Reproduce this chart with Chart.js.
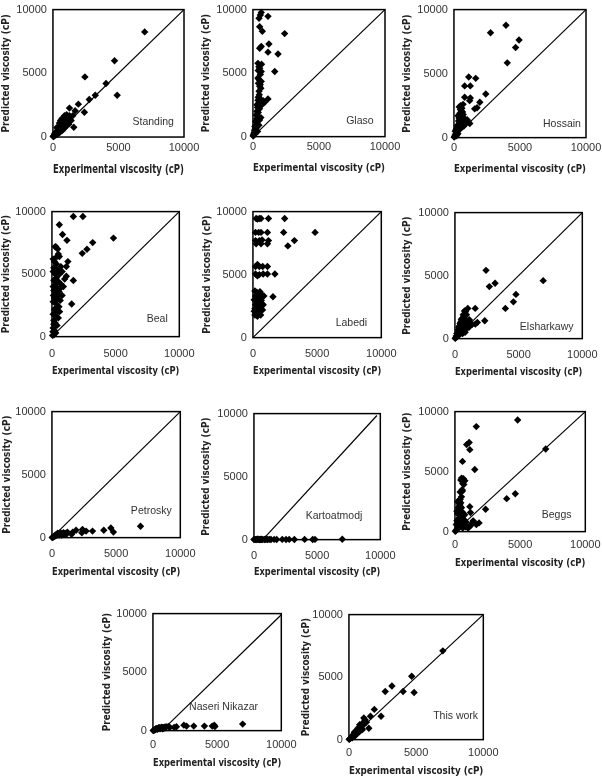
<!DOCTYPE html>
<html>
<head>
<meta charset="utf-8">
<script src="https://cdn.jsdelivr.net/npm/chart.js@4.4.0/dist/chart.umd.min.js"></script>
<style>
html,body{margin:0;padding:0;background:#fff;}
body{width:602px;height:778px;position:relative;overflow:hidden;}
.pn{position:absolute;}
</style>
</head>
<body>
<script>
// axis ticks shared by every panel
const axisTicks=[0,5000,10000];
const xTitle='Experimental viscosity (cP)';
const yTitle='Predicted viscosity (cP)';

// [experimental, predicted] pairs
const standing=[[7000,8250],[4700,5990],[4900,3280],[4050,4200],[3230,3280],[2770,2950],[2440,4720],[2400,1940],[1940,2580],[1690,2060],[1510,1680],[1590,770],[1260,2270],
  [1130,1550],[880,1290],[760,1160],[630,1030],[500,830],[380,650],[250,390],[130,210],[80,80],[1010,900],[760,650],[1130,1030],[1390,1290],[580,1290],[880,1680],[1260,1680],[960,1030],
  [700,500],[550,400],[420,300],[300,200],[200,150],[150,300],[450,600],[650,800],[800,900],[1000,1200],[350,500],[1100,1450],[900,700],[600,600],[40,30],[20,60],[100,150],[1300,1400],[1200,1000],
  [700,1450],[500,1100],[300,750],[1050,1750],[850,1150],[1200,1250]];
const glaso=[[560,9580],[630,9780],[460,9320],[1140,9470],[510,8650],[710,8290],[2400,8110],[1210,7290],[630,7090],[510,6960],[1140,6650],[1900,6500],[1650,5130],[380,5770],[510,5380],[630,5120],
  [380,4610],[630,4350],[510,3970],[460,3580],[1140,2970],[890,2710],[630,2460],[380,2870],[450,5500],[560,4900],[420,4200],[600,3800],[480,3300],[550,3000],[400,2600],[700,2600],[800,2800],[350,2300],
  [300,2000],[250,1700],[280,1400],[200,1200],[220,900],[150,800],[180,600],[120,500],[100,350],[80,250],[60,150],[40,100],[20,50],[350,1600],[400,1900],[300,1100],[250,700],[500,1300],[450,900],[600,1500],[350,400],[200,300],[150,200],
  [450,4500],[550,4100],[400,3100],[500,2200],[300,2500],[650,5700],[400,5200]];
const hossain=[[2770,8190],[3940,8780],[4930,7630],[4670,7040],[4040,5840],[2410,3410],[1650,4630],[1120,4740],[810,4040],[1240,4040],[1240,3100],[1190,2890],[810,3150],[1960,2760],[1750,2330],[1570,2250],
  [690,2600],[600,2300],[650,2000],[550,1800],[500,1500],[600,1300],[450,1200],[400,1000],[350,800],[500,900],[700,1100],[800,1200],[900,1300],[1000,1400],[300,600],[250,500],[200,400],[150,300],[100,200],[50,100],[20,40],[400,700],[600,800],[750,900],[300,300],[200,150],[550,2100],[450,1600],
  [100,500],[200,700],[300,1000],[350,1300],[400,1500],[450,1900],[500,2200],[250,900],[150,600],[650,1600],[700,1800],[800,1500],[900,1100],[1100,1200],[1200,1100],[350,550],[550,1100],[750,1400],[400,2400],[300,1700],[500,2500]];
const beal=[[1680,9610],[2430,9610],[580,8950],[830,8170],[1180,7700],[250,7180],[4830,7880],[3200,7520],[2750,6990],[2380,6660],[580,6400],[1250,6000],[1130,5610],[1680,4490],[1550,2610],[1130,4830],
  [300,7200],[400,6400],[200,6000],[350,5800],[150,5500],[450,5300],[250,5000],[600,5000],[350,4700],[150,4500],[500,4400],[700,4200],[250,4100],[400,3900],[900,4000],[150,3700],[550,3600],[300,3400],[800,3300],
  [200,3100],[450,3000],[650,2900],[100,2800],[350,2600],[550,2400],[200,2200],[400,2000],[100,1800],[300,1600],[500,1500],[150,1300],[250,1100],[400,900],[100,700],[200,500],[300,300],[150,150],[50,100],[80,400],
  [250,2800],[120,3300],[600,3800],[1000,4600],[800,5200],[700,5600],[500,6600],[100,5200],[100,4000],[300,4300],[500,3300],[400,2300],[250,1800],[600,2000],[150,1000],[100,6200],[450,7000]];
const labedi=[[250,9450],[500,9450],[630,9450],[350,9400],[1210,9450],[2470,9450],[200,8350],[450,8350],[630,8350],[1130,8350],[2390,8350],[4840,8350],[200,7700],[500,7700],[710,7750],[1210,7700],[3230,7700],[2720,7280],
  [250,7450],[630,7450],[1130,7450],[200,5650],[500,5650],[760,5650],[1130,5650],[350,5800],[200,5050],[500,5000],[800,5050],[1130,5050],[1710,5050],[350,4900],[1560,3240],
  [150,3700],[300,3600],[500,3500],[700,3400],[200,3300],[400,3200],[600,3100],[850,3300],[100,3000],[300,2900],[500,2800],[700,2700],[200,2600],[400,2500],[600,2400],[150,2300],[350,2200],[550,2100],[750,2200],
  [250,2000],[450,1900],[150,1800],[350,1700],[600,1800],[100,2100],[650,2950],[800,2600],[300,3400],[550,3650],[450,2350]];
const elsharkawy=[[2440,5420],[2700,4130],[3150,4390],[6930,4600],[4790,3510],[4590,2920],[3960,2400],[2340,1420],[1590,2400],[1010,2400],[830,2140],[1760,1290],[1340,1110],[760,1750],[1130,1500],[1600,1150],[900,1900],[1200,1300],
  [700,1400],[600,1200],[500,1000],[650,900],[400,800],[800,1000],[550,700],[300,600],[450,500],[250,400],[700,600],[900,800],[1000,1000],[200,250],[350,300],[150,150],[100,200],[50,60],[20,20],[600,400],[1100,900],[500,1500],[400,1200],[300,900],[800,500],
  [350,1000],[450,1300],[550,1600],[650,1900],[750,2200],[850,1500],[950,1200],[250,700],[150,400],[700,800]];
const petrosky=[[6900,900],[4590,770],[4790,440],[4040,590],[3160,520],[2660,520],[2380,650],[2330,390],[1880,590],[1630,440],[1530,260],[1200,440],[1030,340],[1100,250],
  [900,400],[800,300],[700,350],[600,250],[500,300],[400,200],[300,150],[200,100],[100,50],[50,20],[750,200],[650,400],[550,200],[450,350],[350,250],[250,200],[150,100],[850,250],[950,300],[20,10]];
const kartoatmodj=[[0,10],[80,20],[200,15],[330,25],[460,10],[580,30],[710,20],[840,15],[970,25],[1090,10],[1220,20],[1350,15],[1600,20],[1800,10],[2240,20],[2540,15],[2790,20],[3200,10],[4010,20],[4650,15],[4830,20],[6990,25],
  [120,5],[260,35],[400,5],[520,15],[650,5],[900,30]];
const beggs=[[4810,9300],[1640,8750],[1090,7430],[900,7250],[1140,6830],[580,5850],[1520,5180],[510,4460],[760,4240],[680,3920],[580,3380],[330,2620],[380,2300],[430,2080],[1140,2080],[1190,1590],[6960,6890],[3970,2750],[4630,3160],[2350,1860],[1850,730],[1640,590],
  [450,4300],[600,4000],[400,3300],[500,2900],[300,2500],[450,2400],[250,2000],[350,1800],[500,1600],[200,1500],[400,1300],[300,1100],[550,1200],[150,900],[350,800],[500,700],[700,600],[900,500],[1000,300],[800,400],[600,300],[400,400],[250,300],[150,200],[80,100],[30,30],[1100,400],[1200,500],[700,1000],[250,1500],
  [100,600],[200,1000],[300,1400],[350,2200],[400,2700],[550,3500],[650,4400],[200,2500],[150,1700],[500,2000],[600,1600],[750,1400],[850,800],[1300,700],[1400,900]];
const naseri=[[6990,560],[4780,470],[4620,390],[4830,350],[4010,390],[3180,390],[2620,390],[2410,470],[1830,330],[1650,280],[1320,280],[1020,330],[1200,350],
  [900,300],[800,250],[700,300],[600,200],[500,250],[400,180],[300,150],[200,100],[100,50],[50,20],[20,10],[750,150],[650,280],[550,150],[450,250],[350,120],[250,180],[150,80],[850,200],[950,250]];
const thisWork=[[6990,7100],[4670,5070],[4850,3770],[4030,3850],[3200,4290],[2700,3850],[2390,1870],[1890,2420],[1600,1870],[1480,910],[1110,1740],
  [1200,1600],[1000,1300],[900,1100],[800,1000],[1100,1200],[950,900],[700,800],[600,700],[750,600],[500,600],[400,450],[550,450],[300,350],[350,250],[200,250],[250,150],[150,150],[100,100],[50,60],[20,20],[650,900],[850,750],[450,300],[1300,1400],
  [1000,800],[800,1200],[600,500],[400,600],[1150,1450]];

// reference lines
const diagFull=[[0,0],[10000,10000]];
const diagKarto=[[700,0],[9730,9850]];
const diagNaseri=[[700,0],[10000,9900]];

// layout of each panel: plot box [l,t,r,b] on the page, title positions, label spot in data units
const panels=[
  {name:'Standing',pts:standing,diag:diagFull,box:[53,7,184,137],yt:6,xt:170,gap:11,lab:[7650,1150],big:true},
  {name:'Glaso',pts:glaso,diag:diagFull,box:[253,7,385,137],yt:206,xt:169,gap:10,lab:[8100,1230]},
  {name:'Hossain',pts:hossain,diag:diagFull,box:[454,7,586,138],yt:407,xt:170,gap:10,lab:[8180,1070]},
  {name:'Beal',pts:beal,diag:diagFull,box:[52,209,185,337],yt:6,xt:372,gap:17,lab:[8270,1400]},
  {name:'Labedi',pts:labedi,diag:diagFull,box:[253,209,386,338],yt:207,xt:372,gap:16,lab:[7670,1160]},
  {name:'Elsharkawy',pts:elsharkawy,diag:diagFull,box:[455,210,587,339],yt:407,xt:373,gap:16,lab:[7200,930]},
  {name:'Petrosky',pts:petrosky,diag:diagFull,box:[52,409,185,538],yt:7,xt:573,gap:16,lab:[7740,2090]},
  {name:'Kartoatmodj',pts:kartoatmodj,diag:diagKarto,box:[254,411,385,540],yt:206,xt:573,gap:16,lab:[6340,1860]},
  {name:'Beggs',pts:beggs,diag:diagFull,box:[455,409,587,532],yt:407,xt:564,gap:13,lab:[7800,1380]},
  {name:'Naseri Nikazar',pts:naseri,diag:diagNaseri,box:[153,611,284,731],yt:107,xt:764,gap:14,lab:[5500,2000]},
  {name:'This work',pts:thisWork,diag:diagFull,box:[349,612,485,740],yt:306,xt:772,gap:13,lab:[7940,1875]}
];

const NARROW="'DejaVu Sans Condensed',sans-serif";
const TICKF="'Liberation Sans',Arial,sans-serif";

const frame={id:'frame',beforeDatasetsDraw(c){
  const a=c.chartArea,x=c.ctx;
  x.save();x.strokeStyle='#000';x.lineWidth=1.5;
  x.strokeRect(a.left,a.top,a.right-a.left,a.bottom-a.top);x.restore();
}};
const tag={id:'tag',afterDatasetsDraw(c,args,o){
  const x=c.ctx;
  x.save();x.font="10.5px "+TICKF;x.fillStyle='#333';x.textAlign='center';x.textBaseline='middle';
  x.fillText(o.text,c.scales.x.getPixelForValue(o.at[0]),c.scales.y.getPixelForValue(o.at[1]));
  x.restore();
}};

function mkPanel(p){
  const [l,t,r,b]=p.box;
  const xSize=p.big?11.6:10.6, ySize=9.9;
  const yW=l-p.yt+ySize*0.6;
  const xH=p.xt-b+xSize*0.6;
  const padTop=10,padRight=20;
  const w=Math.round(yW+(r-l)+padRight),h=Math.round(padTop+(b-t)+xH);
  const d=document.createElement('div');d.className='pn';
  d.style.left=(l-yW)+'px';d.style.top=(t-padTop)+'px';d.style.width=w+'px';d.style.height=h+'px';
  const cv=document.createElement('canvas');cv.width=w;cv.height=h;cv.style.width=w+'px';cv.style.height=h+'px';
  d.appendChild(cv);document.body.appendChild(d);
  const tickFont={family:TICKF,size:11,lineHeight:1.2};
  const setTicks=s=>{s.ticks=axisTicks.map(v=>({value:v}));};
  return new Chart(cv.getContext('2d'),{
    type:'scatter',
    data:{datasets:[
      {data:p.pts.map(([x,y])=>({x,y})),pointStyle:'rectRot',pointRadius:3.7,backgroundColor:'#000',borderColor:'#000',borderWidth:0,clip:5},
      {data:p.diag.map(([x,y])=>({x,y})),showLine:true,borderColor:'#000',borderWidth:1.2,pointRadius:0,clip:false}
    ]},
    options:{
      responsive:false,animation:false,devicePixelRatio:1,
      layout:{padding:{top:padTop,right:padRight,left:0,bottom:0}},
      plugins:{legend:{display:false},tooltip:{enabled:false},tag:{text:p.name,at:p.lab}},
      scales:{
        x:{type:'linear',min:0,max:10000,afterBuildTicks:setTicks,afterFit:s=>{s.height=xH;},
          grid:{display:false,drawTicks:false},border:{display:false},
          ticks:{padding:p.gap-6.6,font:tickFont,color:'#333',maxRotation:0,autoSkip:false,callback:v=>String(v)},
          title:{display:true,text:xTitle,padding:0,color:'#222',font:{family:NARROW,size:xSize,weight:'bold',lineHeight:1.2}}},
        y:{type:'linear',min:0,max:10000,afterBuildTicks:setTicks,afterFit:s=>{s.width=yW;},
          grid:{display:false,drawTicks:false},border:{display:false},
          ticks:{padding:6,font:tickFont,color:'#333',autoSkip:false,callback:v=>String(v)},
          title:{display:true,text:yTitle,padding:0,color:'#222',font:{family:NARROW,size:ySize,weight:'bold',lineHeight:1.2}}}
      }
    },
    plugins:[frame,tag]
  });
}
panels.forEach(mkPanel);
</script>
</body>
</html>
